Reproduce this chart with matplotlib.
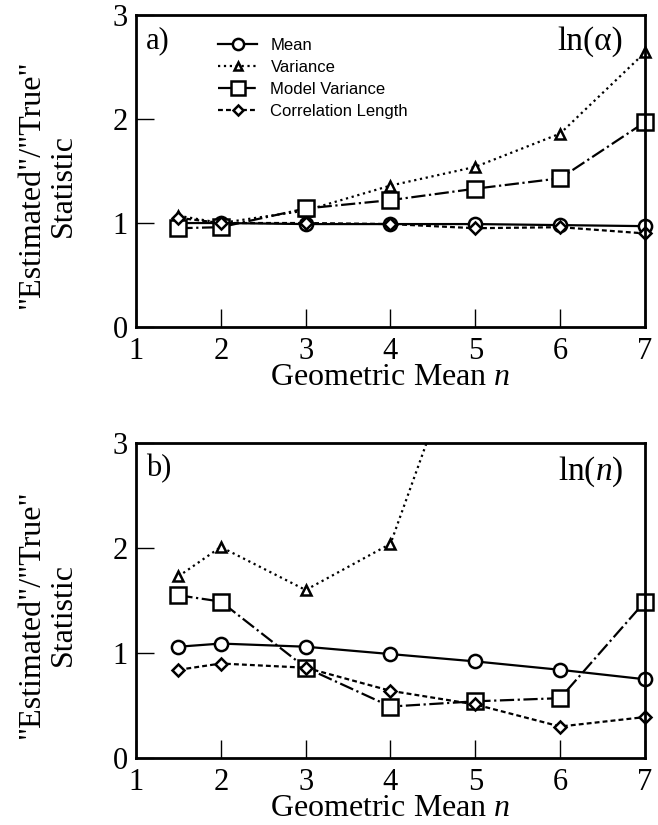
import numpy as np
import matplotlib
matplotlib.use('Agg')
import matplotlib.pyplot as plt

plt.rcParams['mathtext.fontset'] = 'custom'
plt.rcParams['mathtext.rm'] = 'Liberation Serif'
plt.rcParams['mathtext.it'] = 'Liberation Serif:italic'

# Datos
n = [1.5, 2, 3, 4, 5, 6, 7]

# a) ln(alpha)
mean_a = [1.00, 1.00, 0.99, 0.99, 0.99, 0.98, 0.97]
var_a = [1.07, 1.00, 1.12, 1.36, 1.54, 1.86, 2.64]
modvar_a = [0.95, 0.96, 1.14, 1.22, 1.33, 1.43, 1.97]
corr_a = [1.05, 1.00, 1.00, 0.99, 0.95, 0.96, 0.90]

# b) ln(n)
mean_b = [1.06, 1.09, 1.06, 0.99, 0.92, 0.84, 0.75]
var_b = [1.73, 2.01, 1.60, 2.04, 4.3, np.nan, np.nan]
modvar_b = [1.55, 1.49, 0.86, 0.49, 0.54, 0.57, 1.49]
corr_b = [0.84, 0.90, 0.86, 0.64, 0.51, 0.30, 0.39]

xticks = [1, 2, 3, 4, 5, 6, 7]
yticks = [0, 1, 2, 3]

serif = 'Liberation Serif'
sans = 'Liberation Sans'

fig = plt.figure(figsize=(6.58, 8.25), dpi=100)
ax1 = fig.add_axes([0.2067, 0.6036, 0.7735, 0.3782])
ax2 = fig.add_axes([0.2067, 0.0812, 0.7735, 0.3818])

styles = [
    ('Mean', '-', 'o', 9.5),
    ('Variance', ':', '^', 7.5),
    ('Model Variance', '-.', 's', 11.5),
    ('Correlation Length', (0, (2.2, 1.4)), 'D', 6.5),
]


def panel(ax, series, letter, label, clip_var=False):
    for (name, ls, mk, ms), y in zip(styles, series):
        clip = clip_var and name == 'Variance'
        ax.plot(n, y, linestyle=ls, marker=mk, markersize=ms, color='black',
                linewidth=1.6, markerfacecolor='white', markeredgecolor='black',
                markeredgewidth=1.8, label=name, clip_on=clip)
    ax.set_xlim(1, 7)
    ax.set_ylim(0, 3)
    ax.set_xticks(xticks)
    ax.set_yticks(yticks)
    ax.tick_params(direction='in', length=13, width=1, labelsize=22,
                   top=False, right=False)
    ax.tick_params(axis='x', pad=7)
    ax.tick_params(axis='y', pad=6)
    for lbl in ax.get_xticklabels() + ax.get_yticklabels():
        lbl.set_fontfamily(serif)
    for s in ax.spines.values():
        s.set_linewidth(2)
    ax.set_xlabel('Geometric Mean $\\mathit{n}$', fontsize=23, family=serif, labelpad=-2)
    ax.set_ylabel('"Estimated"/"True"\nStatistic', fontsize=23, family=serif,
                  linespacing=1.15)
    ax.yaxis.set_label_coords(-0.114, 0.455)
    ax.text(0.02, 0.965, letter, transform=ax.transAxes, fontsize=22,
            family=serif, va='top', ha='left')
    ax.text(0.958, 0.965, label, transform=ax.transAxes, fontsize=24,
            family=serif, va='top', ha='right')


panel(ax1, [mean_a, var_a, modvar_a, corr_a], 'a)', 'ln(α)')
panel(ax2, [mean_b, var_b, modvar_b, corr_b], 'b)', 'ln($\\mathit{n}$)', clip_var=True)

leg = ax1.legend(loc='upper left', bbox_to_anchor=(0.161, 0.926), frameon=False,
                 prop={'family': sans, 'size': 12}, handlelength=2.35,
                 handletextpad=0.8, labelspacing=0.42, borderpad=0,
                 borderaxespad=0, markerscale=0.85)

plt.savefig('out.png', dpi=100)
